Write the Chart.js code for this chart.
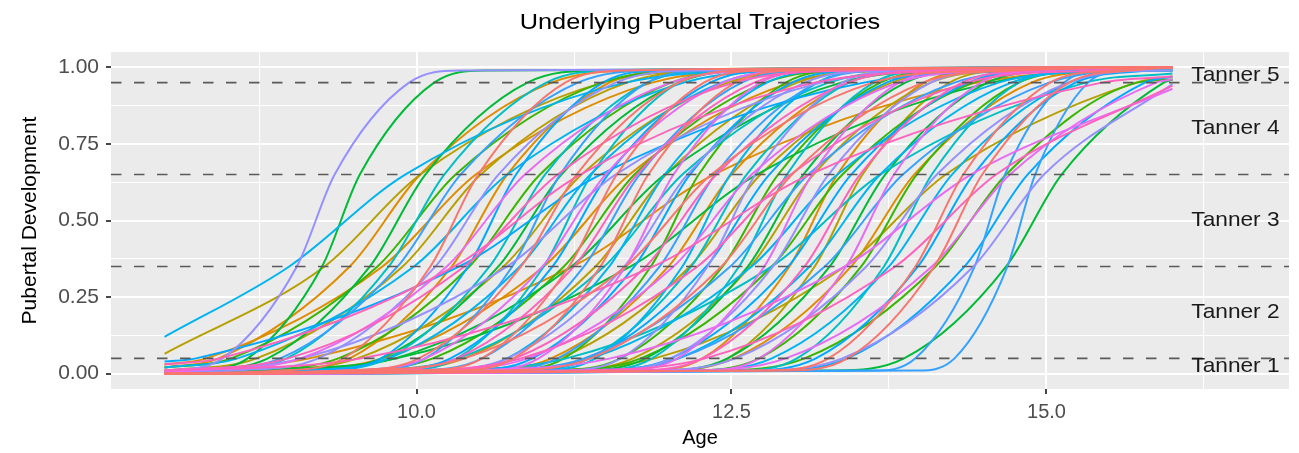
<!DOCTYPE html>
<html>
<head>
<meta charset="utf-8">
<title>Underlying Pubertal Trajectories</title>
<script src="https://cdn.jsdelivr.net/npm/chart.js@4.4.1/dist/chart.umd.min.js"></script>
<style>
  html, body { margin: 0; padding: 0; background: #fff; }
  #wrap { width: 1299px; height: 453px; }
</style>
</head>
<body>
<div id="wrap"><canvas id="myLineChart" width="1299" height="453"></canvas></div>
<script>
const chartTitle = 'Underlying Pubertal Trajectories';

// every trajectory runs from age 8 to age 16
const ageStart = 8;
const ageEnd = 16;

// Tanner cut-offs (the dashed lines)
const cutoffs = [0.05, 0.35, 0.65, 0.95];
const crossLevels = [0.01, 0.05, 0.35, 0.65, 0.95, 0.99];

// one row per child: [value at 8, age at 0.01, 0.05, 0.35, 0.65, 0.95, 0.99, value at 16]
// null = that level is not crossed between 8 and 16
const trajectories = [
    [0.02, null, 8.43, 9.47, 10.03, 11.07, 11.81, 1],
    [0.03, null, 8.33, 9.73, 10.47, 11.87, 12.86, 1],
    [0.01, null, 9.15, 11.24, 12.36, 14.45, 15.94, 0.99],
    [0, 8.89, 9.47, 10.28, 10.72, 11.53, 12.11, 1],
    [0, 8.82, 9.73, 11.01, 11.69, 12.97, 13.88, 1],
    [0, 10.41, 11.07, 12.0, 12.5, 13.43, 14.09, 1],
    [0, 11.77, 12.27, 12.96, 13.34, 14.03, 14.53, 1],
    [0, 11.86, 12.52, 13.45, 13.95, 14.88, 15.54, 1],

    [0.065, null, null, 9.27, 10.03, 11.48, 12.5, 1],
    [0, 10.82, 11.89, 13.4, 14.2, 15.71, null, 0.97],
    [0.01, null, 8.73, 9.89, 10.51, 11.67, 12.5, 1],
    [0, 8.7, 9.53, 10.69, 11.31, 12.47, 13.3, 1],
    [0, 9.64, 10.38, 11.42, 11.98, 13.02, 13.76, 1],
    [0, 10.39, 11.13, 12.17, 12.73, 13.77, 14.51, 1],
    [0, 11.06, 11.72, 12.65, 13.15, 14.08, 14.74, 1],
    [0, 11.97, 12.47, 13.16, 13.54, 14.23, 14.73, 1],

    [0.02, null, 8.53, 9.69, 10.31, 11.47, 12.3, 1],
    [0, 12.34, 13.08, 14.12, 14.68, 15.72, null, 0.96],
    [0, 8.64, 9.38, 10.42, 10.98, 12.02, 12.76, 1],
    [0, 9.39, 10.13, 11.17, 11.73, 12.77, 13.51, 1],
    [0, 10.67, 11.17, 11.86, 12.24, 12.93, 13.43, 1],
    [0, 11.04, 11.62, 12.43, 12.87, 13.68, 14.26, 1],
    [0, 11.04, 11.78, 12.82, 13.38, 14.42, 15.16, 1],
    [0, 12.14, 12.72, 13.53, 13.97, 14.78, 15.36, 1],

    [0, 8.25, 8.66, 9.25, 9.55, 10.14, 10.55, 1],
    [0.005, 8.24, 8.82, 9.63, 10.07, 10.88, 11.46, 1],
    [0, 13.29, 13.87, 14.68, 15.12, 15.93, null, 0.96],
    [0, 9.06, 9.72, 10.65, 11.15, 12.08, 12.74, 1],
    [0, 8.84, 9.83, 11.23, 11.97, 13.37, 14.36, 1],
    [0.005, 8.52, 9.84, 11.7, 12.7, 14.56, 15.88, 0.99],
    [0, 11.24, 11.82, 12.63, 13.07, 13.88, 14.46, 1],
    [0, 11.89, 12.47, 13.28, 13.72, 14.53, 15.11, 1],

    [0, 8.39, 8.97, 9.78, 10.22, 11.03, 11.61, 1],
    [0, 9.19, 9.77, 10.58, 11.02, 11.83, 12.41, 1],
    [0, 9.82, 10.32, 11.01, 11.39, 12.08, 12.58, 1],
    [0, 9.5, 10.33, 11.49, 12.11, 13.27, 14.1, 1],
    [0, 10.79, 11.37, 12.18, 12.62, 13.43, 14.01, 1],
    [0, 11.37, 11.87, 12.56, 12.94, 13.63, 14.13, 1],
    [0, 10.03, 11.19, 12.82, 13.68, 15.31, null, 0.98],
    [0, 12.52, 13.02, 13.71, 14.09, 14.78, 15.28, 1],

    [0.12, null, null, 8.99, 9.91, 11.66, 12.9, 1],
    [0.02, null, 8.58, 9.98, 10.72, 12.12, 13.11, 1],
    [0, 9.04, 9.78, 10.82, 11.38, 12.42, 13.16, 1],
    [0, 10.14, 10.72, 11.53, 11.97, 12.78, 13.36, 1],
    [0, 10.92, 11.42, 12.11, 12.49, 13.18, 13.68, 1],
    [0, 10.47, 11.38, 12.66, 13.34, 14.62, 15.53, 1],
    [0, 11.34, 12.08, 13.12, 13.68, 14.72, 15.46, 1],
    [0, 12.16, 12.82, 13.75, 14.25, 15.18, 15.84, 0.99],

    [0.04, null, 8.25, 10.34, 11.46, 13.55, 15.04, 1],
    [0, 12.59, 13.17, 13.98, 14.42, 15.23, 15.81, 1],
    [0, 12.76, 13.42, 14.35, 14.85, 15.78, null, 0.97],
    [0, 9.22, 9.72, 10.41, 10.79, 11.48, 11.98, 1],
    [0, 9.69, 10.27, 11.08, 11.52, 12.33, 12.91, 1],
    [0, 10.34, 10.92, 11.73, 12.17, 12.98, 13.56, 1],
    [0, 10.71, 11.37, 12.3, 12.8, 13.73, 14.39, 1],
    [0, 11.36, 12.02, 12.95, 13.45, 14.38, 15.04, 1],

    [0, 13.63, 13.96, 14.43, 14.67, 15.14, 15.47, 1],
    [0, 13.97, 14.27, 14.69, 14.91, 15.33, 15.63, 1],
    [0, 8.26, 8.92, 9.85, 10.35, 11.28, 11.94, 1],
    [0, 9.57, 10.07, 10.76, 11.14, 11.83, 12.33, 1],
    [0, 9.94, 10.52, 11.33, 11.77, 12.58, 13.16, 1],
    [0, 10.54, 11.12, 11.93, 12.37, 13.18, 13.76, 1],
    [0, 10.5, 11.33, 12.49, 13.11, 14.27, 15.1, 1],
    [0, 11.25, 12.08, 13.24, 13.86, 15.02, 15.85, 0.99],

    [0.008, 8.05, 8.46, 9.05, 9.35, 9.94, 10.35, 1],
    [0, 12.64, 13.38, 14.42, 14.98, null, null, 0.945],
    [0, 8.56, 9.22, 10.15, 10.65, 11.58, 12.24, 1],
    [0.01, null, 9.09, 10.72, 11.58, 13.21, 14.37, 1],
    [0, 10.06, 10.72, 11.65, 12.15, 13.08, 13.74, 1],
    [0, 11.12, 11.62, 12.31, 12.69, 13.38, 13.88, 1],
    [0, 11.44, 12.02, 12.83, 13.27, 14.08, 14.66, 1],
    [0, 11.79, 12.53, 13.57, 14.13, 15.17, 15.91, 0.99],

    [0, 12.1, 12.93, 14.09, 14.71, 15.87, null, 0.96],
    [0, 10.22, 11.54, 13.4, 14.4, null, null, 0.93],
    [0.005, 8.25, 9.08, 10.24, 10.86, 12.02, 12.85, 1],
    [0, 9.41, 10.07, 11.0, 11.5, 12.43, 13.09, 1],
    [0, 10.47, 10.97, 11.66, 12.04, 12.73, 13.23, 1],
    [0, 10.05, 10.88, 12.04, 12.66, 13.82, 14.65, 1],
    [0, 11.57, 12.07, 12.76, 13.14, 13.83, 14.33, 1],
    [0, 12.22, 12.72, 13.41, 13.79, 14.48, 14.98, 1],

    [0.03, null, 8.44, 10.3, 11.3, 13.16, 14.48, 1],
    [0, 11.22, 12.29, 13.8, 14.6, null, null, 0.94],
    [0.01, null, 9.56, 11.88, 13.12, 15.44, null, 0.97],
    [0.01, null, 8.98, 10.38, 11.12, 12.52, 13.51, 1],
    [0, 9.66, 10.32, 11.25, 11.75, 12.68, 13.34, 1],
    [0, 10.04, 10.78, 11.82, 12.38, 13.42, 14.16, 1],
    [0, 9.84, 10.83, 12.23, 12.97, 14.37, 15.36, 1],
    [0, 11.69, 12.27, 13.08, 13.52, 14.33, 14.91, 1],

    [0, 8.92, 9.42, 10.11, 10.49, 11.18, 11.68, 1],
    [0, 9.44, 10.02, 10.83, 11.27, 12.08, 12.66, 1],
    [0, 10.02, 10.52, 11.21, 11.59, 12.28, 12.78, 1],
    [0, 10.27, 10.77, 11.46, 11.84, 12.53, 13.03, 1],
    [0, 9.47, 10.38, 11.66, 12.34, 13.62, 14.53, 1],
    [0, 10.64, 11.38, 12.42, 12.98, 14.02, 14.76, 1],
    [0, 12.77, 13.27, 13.96, 14.34, 15.03, 15.53, 1],
    [0, 12.92, 13.42, 14.11, 14.49, 15.18, 15.68, 1]
];

const tannerLabels = ['Tanner 1', 'Tanner 2', 'Tanner 3', 'Tanner 4', 'Tanner 5'];
const tannerLevels = [0.025, 0.2, 0.5, 0.8, 0.975];
const tannerAge = 16.5;

const xMajor = [10, 12.5, 15];
const xMinor = [8.75, 11.25, 13.75, 16.25];
const yMajor = [0, 0.25, 0.5, 0.75, 1];
const yMinor = [0.125, 0.375, 0.625, 0.875];
const xRange = [7.575, 16.925];
const yRange = [-0.05, 1.05];

// hue colours, the last group (red) ends up on top
const palette = ['#DE8C00', '#B79F00', '#39B600', '#00BA38', '#00BFC4', '#00B4F0',
                 '#00A9FF', '#35A2FF', '#9590FF', '#E76BF3', '#FF62BC', '#F8766D'];

const FONT = '"Liberation Sans", Arial, Helvetica, sans-serif';
Chart.defaults.font.family = FONT;

let datasets = trajectories.map((row, i) => {
    let pts = [{x: ageStart, y: row[0]}];
    crossLevels.forEach((lvl, k) => {
        if (row[k + 1] !== null) pts.push({x: row[k + 1], y: lvl});
    });
    pts.push({x: ageEnd, y: row[row.length - 1]});
    return {
        data: pts,
        borderColor: palette[Math.floor(i * palette.length / trajectories.length)],
        borderWidth: 2,
        pointRadius: 0,
        fill: false,
        cubicInterpolationMode: 'monotone',
        order: trajectories.length - i
    };
});

// dashed cut-off lines across the whole panel
cutoffs.forEach((c) => {
    datasets.push({
        data: [{x: xRange[0], y: c}, {x: xRange[1], y: c}],
        borderColor: '#5a5a5a',
        borderWidth: 1.6,
        borderDash: [10.5, 12.5],
        pointRadius: 0,
        fill: false,
        order: -1
    });
});

const panelBg = {
    id: 'panelBg',
    beforeDraw(chart) {
        const {ctx, chartArea: a} = chart;
        ctx.save();
        ctx.fillStyle = '#EBEBEB';
        ctx.fillRect(a.left, a.top, a.right - a.left, a.bottom - a.top);
        ctx.restore();
    }
};

// text drawn slightly wider, like the reference
function wideText(ctx, text, x, y, stretch) {
    ctx.save();
    ctx.translate(x, y);
    ctx.scale(stretch, 1);
    ctx.fillText(text, 0, 0);
    ctx.restore();
}

const labels = {
    id: 'labels',
    afterDatasetsDraw(chart) {
        const {ctx, chartArea: a, scales: {x, y}} = chart;
        ctx.save();
        ctx.textAlign = 'center';
        ctx.textBaseline = 'middle';
        ctx.fillStyle = '#1a1a1a';
        ctx.font = '21px ' + FONT;
        tannerLabels.forEach((t, i) => {
            wideText(ctx, t, x.getPixelForValue(tannerAge), y.getPixelForValue(tannerLevels[i]), 1.08);
        });
        ctx.fillStyle = '#000';
        ctx.font = '22px ' + FONT;
        wideText(ctx, chartTitle, (a.left + a.right) / 2, 23, 1.15);
        ctx.restore();
    }
};

const isIn = (arr, v) => arr.some(a => Math.abs(a - v) < 1e-9);

new Chart(document.getElementById('myLineChart'), {
    type: 'line',
    data: { datasets: datasets },
    options: {
        responsive: false,
        animation: false,
        devicePixelRatio: 1,
        events: [],
        layout: { padding: { top: 52, right: 10, bottom: 0, left: 0 } },
        plugins: {
            legend: { display: false },
            tooltip: { enabled: false },
            title: { display: false }
        },
        scales: {
            x: {
                type: 'linear',
                min: xRange[0],
                max: xRange[1],
                afterBuildTicks: (s) => {
                    s.ticks = xMinor.concat(xMajor).sort((a, b) => a - b).map(v => ({value: v}));
                },
                afterFit: (s) => { s.height = 64; },
                border: { display: false },
                grid: {
                    color: '#ffffff',
                    lineWidth: (c) => isIn(xMajor, c.tick.value) ? 2 : 1,
                    tickColor: (c) => isIn(xMajor, c.tick.value) ? '#333333' : 'rgba(0,0,0,0)',
                    tickLength: 5,
                    tickWidth: 1.8
                },
                ticks: {
                    autoSkip: false,
                    maxRotation: 0,
                    padding: 6,
                    color: '#4d4d4d',
                    font: { size: 20 },
                    callback: (v) => isIn(xMajor, v) ? v.toFixed(1) : ''
                },
                title: {
                    display: true,
                    text: 'Age',
                    color: '#000',
                    font: { size: 20 },
                    padding: { top: 0, bottom: 3 }
                }
            },
            y: {
                min: yRange[0],
                max: yRange[1],
                afterBuildTicks: (s) => {
                    s.ticks = yMinor.concat(yMajor).sort((a, b) => a - b).map(v => ({value: v}));
                },
                afterFit: (s) => { s.width = 111; },
                border: { display: false },
                grid: {
                    color: '#ffffff',
                    lineWidth: (c) => isIn(yMajor, c.tick.value) ? 2 : 1,
                    tickColor: (c) => isIn(yMajor, c.tick.value) ? '#333333' : 'rgba(0,0,0,0)',
                    tickLength: 5,
                    tickWidth: 1.8
                },
                ticks: {
                    autoSkip: false,
                    padding: 7,
                    color: '#4d4d4d',
                    font: { size: 21 },
                    callback: (v) => isIn(yMajor, v) ? v.toFixed(2) : ''
                },
                title: {
                    display: true,
                    text: 'Pubertal Development',
                    color: '#000',
                    font: { size: 21 },
                    padding: { top: 18, bottom: 0 }
                }
            }
        }
    },
    plugins: [panelBg, labels]
});
</script>
</body>
</html>
